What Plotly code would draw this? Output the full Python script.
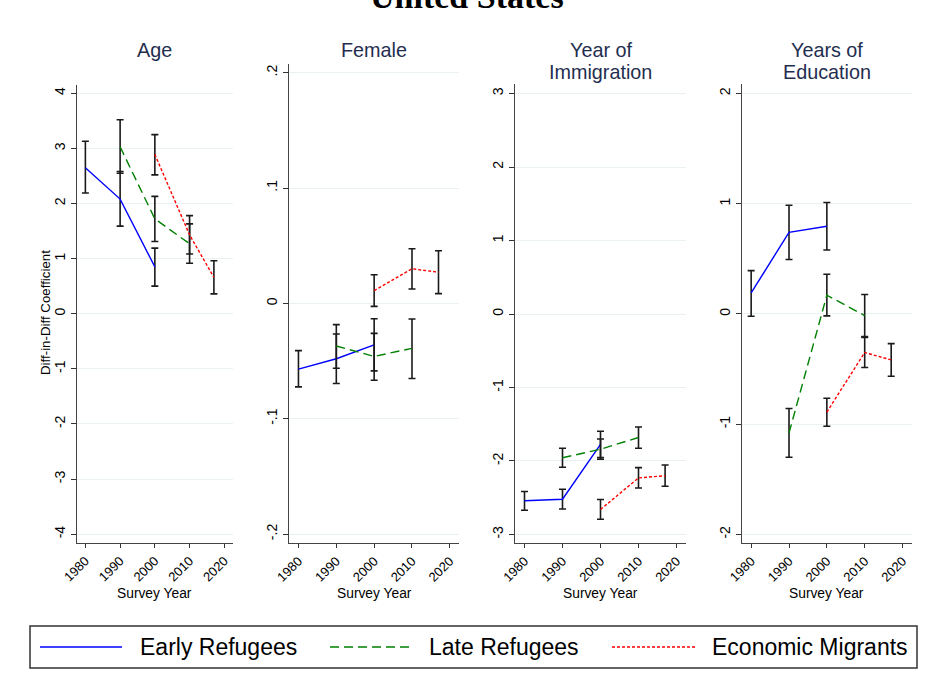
import plotly.graph_objects as go

W, H = 931, 687

# Survey years at which each group is observed
early_years = [1980, 1990, 2000]
late_years = [1990, 2000, 2010]
econ_years = [2000, 2010, 2017]

# Age
age_early = [2.65, 2.08, 0.85]
age_early_lo = [2.19, 1.59, 0.50]
age_early_hi = [3.13, 2.58, 1.19]
age_late = [3.03, 1.72, 1.27]
age_late_lo = [2.55, 1.31, 0.915]
age_late_hi = [3.52, 2.13, 1.63]
age_econ = [2.89, 1.43, 0.66]
age_econ_lo = [2.52, 1.085, 0.36]
age_econ_hi = [3.25, 1.78, 0.96]

# Female
fem_early = [-0.057, -0.048, -0.036]
fem_early_lo = [-0.0724, -0.0695, -0.0585]
fem_early_hi = [-0.041, -0.0265, -0.0133]
fem_late = [-0.037, -0.046, -0.039]
fem_late_lo = [-0.0563, -0.0667, -0.0652]
fem_late_hi = [-0.0184, -0.026, -0.0135]
fem_econ = [0.011, 0.030, 0.027]
fem_econ_lo = [-0.0026, 0.0124, 0.0084]
fem_econ_hi = [0.0248, 0.0474, 0.0456]

# Year of immigration
imm_early = [-2.54, -2.52, -1.775]
imm_early_lo = [-2.67, -2.653, -1.954]
imm_early_hi = [-2.416, -2.385, -1.596]
imm_late = [-1.956, -1.84, -1.68]
imm_late_lo = [-2.086, -1.977, -1.827]
imm_late_hi = [-1.827, -1.70, -1.537]
imm_econ = [-2.66, -2.23, -2.20]
imm_econ_lo = [-2.793, -2.367, -2.344]
imm_econ_hi = [-2.525, -2.09, -2.054]

# Years of education
edu_early = [0.19, 0.74, 0.795]
edu_early_lo = [-0.021, 0.493, 0.58]
edu_early_hi = [0.393, 0.986, 1.01]
edu_late = [-1.08, 0.17, -0.015]
edu_late_lo = [-1.30, -0.018, -0.206]
edu_late_hi = [-0.858, 0.36, 0.176]
edu_econ = [-0.89, -0.35, -0.417]
edu_econ_lo = [-1.018, -0.486, -0.565]
edu_econ_hi = [-0.764, -0.214, -0.269]

# Tick values and labels
x_ticks = [1980, 1990, 2000, 2010, 2020]
age_ticks = [-4, -3, -2, -1, 0, 1, 2, 3, 4]
age_labels = ["-4", "-3", "-2", "-1", "0", "1", "2", "3", "4"]
fem_ticks = [-0.2, -0.1, 0, 0.1, 0.2]
fem_labels = ["-.2", "-.1", "0", ".1", ".2"]
imm_ticks = [-3, -2, -1, 0, 1, 2, 3]
imm_labels = ["-3", "-2", "-1", "0", "1", "2", "3"]
edu_ticks = [-2, -1, 0, 1, 2]
edu_labels = ["-2", "-1", "0", "1", "2"]

panel_titles = [["Age"], ["Female"], ["Year of", "Immigration"], ["Years of", "Education"]]
group_names = ["Early Refugees", "Late Refugees", "Economic Migrants"]

# Panel layout in pixels: (left, right, top, bottom) of each plot area
panel_px = [
    (76.7, 233.0, 85.0, 543.0),
    (289.0, 459.3, 64.0, 543.3),
    (515.0, 686.0, 84.0, 543.3),
    (741.7, 912.0, 84.0, 543.3),
]
y_ranges = [(-4.16, 4.15), (-0.208, 0.2075), (-3.12, 3.13), (-2.08, 2.085)]
x_range = (1977.5, 2022.5)

styles = [
    dict(color="#0000ff", dash="solid"),
    dict(color="#008000", dash="9px,5px"),
    dict(color="#ff0000", dash="3px,2px"),
]

panels = [
    [(early_years, age_early, age_early_lo, age_early_hi),
     (late_years, age_late, age_late_lo, age_late_hi),
     (econ_years, age_econ, age_econ_lo, age_econ_hi)],
    [(early_years, fem_early, fem_early_lo, fem_early_hi),
     (late_years, fem_late, fem_late_lo, fem_late_hi),
     (econ_years, fem_econ, fem_econ_lo, fem_econ_hi)],
    [(early_years, imm_early, imm_early_lo, imm_early_hi),
     (late_years, imm_late, imm_late_lo, imm_late_hi),
     (econ_years, imm_econ, imm_econ_lo, imm_econ_hi)],
    [(early_years, edu_early, edu_early_lo, edu_early_hi),
     (late_years, edu_late, edu_late_lo, edu_late_hi),
     (econ_years, edu_econ, edu_econ_lo, edu_econ_hi)],
]
tick_sets = [(age_ticks, age_labels), (fem_ticks, fem_labels),
             (imm_ticks, imm_labels), (edu_ticks, edu_labels)]

FONT = "Liberation Sans, Arial, sans-serif"

fig = go.Figure()
layout = dict(
    width=W, height=H,
    margin=dict(l=0, r=0, t=0, b=0, autoexpand=False),
    paper_bgcolor="white", plot_bgcolor="white",
    showlegend=False,
    font=dict(family=FONT, color="black"),
)

annotations = []
shapes = []

for i, series in enumerate(panels):
    n = "" if i == 0 else str(i + 1)
    xa, ya = "x" + n, "y" + n
    l, r, t, b = panel_px[i]
    for (xs, ys, lo, hi), st, name in zip(series, styles, group_names):
        fig.add_trace(go.Scatter(
            x=xs, y=ys, mode="lines", name=name,
            xaxis=xa, yaxis=ya,
            line=dict(color=st["color"], dash=st["dash"], width=1.4),
            error_y=dict(
                type="data", symmetric=False,
                array=[h - v for h, v in zip(hi, ys)],
                arrayminus=[v - lo_ for v, lo_ in zip(ys, lo)],
                color="#1a1a1a", thickness=1.6, width=3.5,
            ),
            hoverinfo="skip",
        ))
    tv, tt = tick_sets[i]
    layout["xaxis" + n] = dict(
        domain=[l / W, r / W], anchor=ya, range=list(x_range),
        tickmode="array", tickvals=x_ticks, tickangle=-45,
        tickfont=dict(size=13, color="black"),
        ticks="outside", ticklen=4, tickcolor="#333",
        showline=True, linecolor="#444", linewidth=1.3,
        showgrid=False, zeroline=False, automargin=False,
    )
    layout["yaxis" + n] = dict(
        domain=[1 - b / H, 1 - t / H], anchor=xa, range=list(y_ranges[i]),
        tickmode="array", tickvals=tv, ticktext=tt, tickangle=-90,
        tickfont=dict(size=14, color="black"),
        ticks="outside", ticklen=5, tickcolor="#333",
        showline=True, linecolor="#444", linewidth=1.3,
        showgrid=True, gridcolor="#eaf1f3", gridwidth=1, zeroline=False,
        automargin=False,
    )
    # panel heading, one annotation per line
    for k, line_text in enumerate(panel_titles[i]):
        annotations.append(dict(
            text=line_text, xref="paper", yref="paper",
            x=(l + r) / 2 / W, y=1 - (50 + 22 * k) / H,
            xanchor="center", yanchor="middle",
            showarrow=False, font=dict(size=19.8, color="#1f2e4f", family=FONT),
        ))
    # x-axis caption
    annotations.append(dict(
        text="Survey Year", xref="paper", yref="paper",
        x=(l + r) / 2 / W, y=1 - 593 / H, xanchor="center", yanchor="middle",
        showarrow=False, font=dict(size=13.8, color="black", family=FONT),
    ))

# y-axis caption of the first panel
annotations.append(dict(
    text="Diff-in-Diff Coefficient", xref="paper", yref="paper",
    x=45 / W, y=1 - 313 / H, xanchor="center", yanchor="middle", textangle=-90,
    showarrow=False, font=dict(size=13.3, color="black", family=FONT),
))

# Overall title
annotations.append(dict(
    text="<b>United States</b>", xref="paper", yref="paper",
    x=467 / W, y=1 + 4 / H, xanchor="center", yanchor="middle",
    showarrow=False, font=dict(size=34, color="black",
                               family="Liberation Serif, Times New Roman, serif"),
))

# Legend box with line samples
leg_top, leg_bot = 626, 668
shapes.append(dict(type="rect", xref="paper", yref="paper",
                   x0=30 / W, x1=917 / W, y0=1 - leg_bot / H, y1=1 - leg_top / H,
                   line=dict(color="#333", width=1.5), fillcolor="white", layer="below"))
leg_y = 1 - 647 / H
sample_px = [(40, 122), (330, 410), (612, 695)]
text_px = [138, 427, 710]
for (x0, x1), tx, st, name in zip(sample_px, text_px, styles, group_names):
    shapes.append(dict(type="line", xref="paper", yref="paper",
                       x0=x0 / W, x1=x1 / W, y0=leg_y, y1=leg_y,
                       line=dict(color=st["color"], dash=st["dash"], width=1.6)))
    annotations.append(dict(
        text=name, xref="paper", yref="paper", x=tx / W, y=leg_y,
        xanchor="left", yanchor="middle", showarrow=False,
        font=dict(size=23, color="black", family=FONT),
    ))

layout["annotations"] = annotations
layout["shapes"] = shapes
fig.update_layout(**layout)
fig.write_html("out.html")
